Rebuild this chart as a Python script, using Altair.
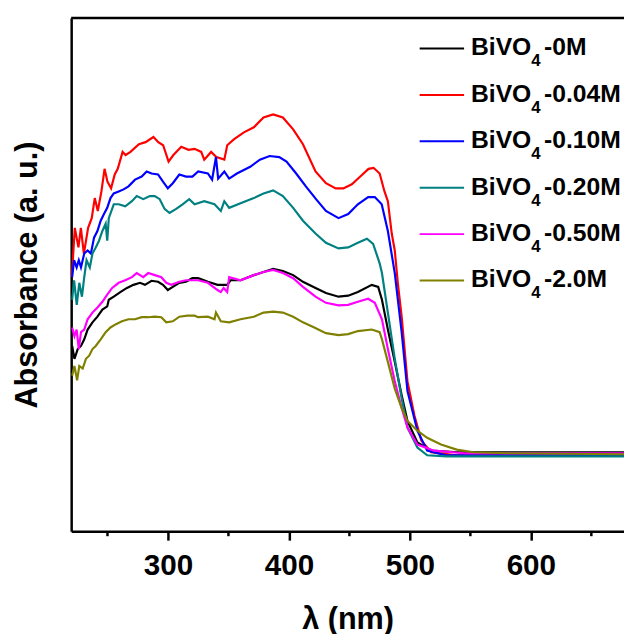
import altair as alt
import pandas as pd

names = ["BiVO4-0M", "BiVO4-0.04M", "BiVO4-0.10M", "BiVO4-0.20M", "BiVO4-0.50M", "BiVO4-2.0M"]
suffixes = ["-0M", "-0.04M", "-0.10M", "-0.20M", "-0.50M", "-2.0M"]
colors = ["#000000", "#ff0000", "#0000ff", "#008080", "#ff00ff", "#808000"]

major_ticks = [300, 400, 500, 600]
minor_ticks = [250, 350, 450, 550, 650]

lam_0M = [220.8, 222.7, 225.4, 228.1, 230.8, 233.6, 237.6, 241.7, 245.8, 249.8, 251.1, 255.2, 260.6, 266.1,
          271.5, 276.9, 281, 286.4, 291.8, 295.9, 299.9, 304, 309.4, 314.9, 320.2, 325, 333, 341, 349, 351.7,
          360, 371, 379, 387, 395, 403.5, 411.6, 422, 430.6, 441, 449, 457, 468.5, 473.8, 476.9, 481.8, 487.5,
          493.2, 498, 506.2, 517.6, 540, 600, 677]
abs_0M = [0.361, 0.336, 0.355, 0.361, 0.374, 0.393, 0.407, 0.418, 0.432, 0.438, 0.451, 0.457, 0.466, 0.474,
          0.480, 0.484, 0.480, 0.488, 0.486, 0.480, 0.470, 0.476, 0.484, 0.486, 0.493, 0.493, 0.486, 0.480, 0.480,
          0.489, 0.489, 0.499, 0.505, 0.511, 0.507, 0.499, 0.486, 0.474, 0.464, 0.457, 0.459, 0.466, 0.480, 0.476,
          0.451, 0.393, 0.330, 0.265, 0.215, 0.173, 0.157, 0.154, 0.154, 0.154]

lam_004 = [220.5, 223, 226, 228, 230.5, 234, 237, 239.5, 242, 245, 247.6, 250, 253, 256, 258.5, 262.5, 265, 269,
           276, 281.5, 288, 292, 296, 300.5, 304.5, 311, 317, 322, 327.5, 330, 335.7, 340, 346.6, 349, 354.7,
           362.8, 371, 379, 387, 395, 403.5, 411.6, 422, 430.6, 438.7, 445, 452, 459, 465.8, 470, 475, 479,
           481.8, 485, 487.5, 490, 493.2, 498, 503.7, 509.4, 517.6, 538.7, 600, 677]
abs_004 = [0.495, 0.591, 0.553, 0.591, 0.541, 0.591, 0.610, 0.649, 0.624, 0.662, 0.706, 0.681, 0.668, 0.695,
           0.706, 0.739, 0.733, 0.739, 0.754, 0.758, 0.768, 0.758, 0.752, 0.720, 0.733, 0.749, 0.743, 0.745,
           0.739, 0.724, 0.739, 0.729, 0.724, 0.752, 0.764, 0.777, 0.787, 0.806, 0.812, 0.806, 0.783, 0.754,
           0.701, 0.678, 0.668, 0.668, 0.676, 0.691, 0.706, 0.708, 0.697, 0.662, 0.643, 0.580, 0.547, 0.484,
           0.418, 0.292, 0.226, 0.177, 0.154, 0.148, 0.148, 0.148]

lam_010 = [220.8, 222.4, 224.5, 226.3, 228.1, 230.8, 233.6, 236.3, 238.9, 241.7, 244.4, 247.1, 249.8, 252.5,
           255.2, 259.3, 263.3, 267.4, 272.8, 278.3, 282.4, 286.4, 291.8, 295.9, 299.9, 304, 309.4, 314.9,
           320.2, 325, 333, 336.5, 339.7, 341.5, 346.6, 350.6, 357, 368, 376, 384, 392, 398, 406, 414, 422.4,
           430.6, 441, 449, 457, 465.5, 471, 476.7, 481.8, 487.5, 493.2, 498, 506.2, 514.3, 530, 600, 677]
abs_010 = [0.495, 0.528, 0.514, 0.528, 0.514, 0.541, 0.547, 0.541, 0.572, 0.585, 0.605, 0.618, 0.630, 0.649,
           0.658, 0.662, 0.666, 0.672, 0.685, 0.691, 0.701, 0.697, 0.695, 0.681, 0.668, 0.678, 0.695, 0.691,
           0.691, 0.701, 0.697, 0.685, 0.729, 0.687, 0.701, 0.687, 0.697, 0.710, 0.724, 0.731, 0.729, 0.720,
           0.697, 0.672, 0.647, 0.624, 0.610, 0.618, 0.637, 0.651, 0.651, 0.637, 0.585, 0.503, 0.388, 0.273,
           0.196, 0.157, 0.148, 0.148, 0.148]

lam_020 = [220.8, 222.4, 224.6, 226.7, 228.9, 230.8, 232.7, 235.4, 237.6, 240.3, 243, 245.8, 248.5, 249.8,
           251.1, 255.2, 259.3, 264.7, 270.2, 274.2, 279.6, 285, 289.1, 293.2, 297.2, 301.3, 306.8, 312.1,
           317.6, 322, 330, 338.5, 343.7, 346.6, 350.6, 360, 371, 379, 387, 395, 403.5, 411.6, 422, 430.6, 441,
           449, 457, 464.5, 469.6, 475, 476.9, 481.8, 487.5, 493.2, 498, 506.2, 514.3, 530, 600, 677]
abs_020 = [0.451, 0.489, 0.441, 0.484, 0.457, 0.495, 0.528, 0.514, 0.541, 0.553, 0.566, 0.585, 0.599, 0.566,
           0.610, 0.637, 0.637, 0.633, 0.643, 0.653, 0.647, 0.653, 0.653, 0.647, 0.628, 0.620, 0.628, 0.637,
           0.647, 0.637, 0.643, 0.637, 0.624, 0.643, 0.630, 0.639, 0.649, 0.658, 0.664, 0.653, 0.630, 0.605,
           0.580, 0.562, 0.551, 0.553, 0.562, 0.570, 0.560, 0.522, 0.503, 0.426, 0.336, 0.259, 0.202, 0.163,
           0.148, 0.146, 0.146, 0.146]

lam_050 = [220.8, 222.7, 224.5, 226.3, 228.1, 230.8, 233.6, 237.6, 241.7, 245.8, 249.8, 253.9, 259.3, 264.7,
           270.2, 274.2, 279.6, 283.7, 289.1, 294.5, 298.6, 302.7, 309.4, 314.9, 320.2, 325, 333, 341, 343.7,
           346, 349, 350.6, 360, 371, 379, 387, 395, 403.5, 411.6, 422, 430.6, 441, 449, 457, 465.5, 471, 476.9,
           481.8, 487.5, 493.2, 498, 506.2, 520, 545, 600, 677]
abs_050 = [0.397, 0.380, 0.393, 0.355, 0.388, 0.393, 0.413, 0.426, 0.436, 0.447, 0.461, 0.474, 0.484, 0.489,
           0.495, 0.503, 0.495, 0.503, 0.499, 0.495, 0.484, 0.480, 0.486, 0.489, 0.489, 0.489, 0.484, 0.470,
           0.466, 0.474, 0.466, 0.495, 0.489, 0.499, 0.505, 0.509, 0.503, 0.493, 0.476, 0.457, 0.445, 0.440,
           0.441, 0.447, 0.453, 0.445, 0.413, 0.355, 0.292, 0.240, 0.202, 0.169, 0.157, 0.152, 0.152, 0.152]

lam_20 = [220.8, 222.7, 224.9, 226.7, 229.5, 232.2, 234.9, 237.6, 240.3, 244.4, 248.5, 252.5, 256.6, 262,
          267.4, 272.8, 278.3, 283.7, 289.1, 294.5, 298.6, 304, 309.4, 316.2, 322, 325, 333, 338.5, 339.7,
          343.7, 350.6, 360, 371, 379, 387, 395, 403.5, 411.6, 421, 430.6, 441, 449, 457, 468.5, 475, 476.9,
          481.8, 487.5, 493.2, 498, 506.2, 514.3, 525.7, 538.7, 552.5, 580, 677]
abs_20 = [0.303, 0.322, 0.294, 0.322, 0.317, 0.336, 0.342, 0.355, 0.361, 0.374, 0.388, 0.397, 0.403, 0.409,
          0.413, 0.413, 0.417, 0.417, 0.418, 0.417, 0.407, 0.409, 0.418, 0.420, 0.420, 0.417, 0.418, 0.413,
          0.426, 0.409, 0.407, 0.413, 0.418, 0.426, 0.428, 0.426, 0.418, 0.407, 0.397, 0.386, 0.382, 0.384,
          0.390, 0.393, 0.388, 0.374, 0.330, 0.278, 0.240, 0.215, 0.196, 0.182, 0.169, 0.159, 0.154, 0.152,
          0.150]

series = [(names[0], lam_0M, abs_0M), (names[1], lam_004, abs_004), (names[2], lam_010, abs_010),
          (names[3], lam_020, abs_020), (names[4], lam_050, abs_050), (names[5], lam_20, abs_20)]
rows = []
for nm, ls, vs in series:
    for i, (l, v) in enumerate(zip(ls, vs)):
        rows.append({"series": nm, "lam": l, "a": v, "i": i})
df = pd.DataFrame(rows)
leg = pd.DataFrame({"name": names, "suffix": suffixes})
minor_df = pd.DataFrame({"lam": minor_ticks})

FONT = "Liberation Sans"
W, H = 560, 520

x_scale = alt.Scale(domain=[220, 677], nice=False, zero=False)
y_scale = alt.Scale(domain=[0, 1], nice=False, zero=False)
color_scale = alt.Scale(domain=names, range=colors)
leg_scale = alt.Scale(type="point", domain=names, range=[31, 266], padding=0)

x_axis = alt.Axis(values=major_ticks, format="d", tickSize=9, tickWidth=2.5, tickColor="black",
                  domainColor="black", domainWidth=2.5, labelFont=FONT, labelFontSize=30,
                  labelFontWeight="bold", labelColor="black", labelPadding=11, labelFlush=False,
                  title="λ (nm)", titleFont=FONT, titleFontSize=31, titleFontWeight="bold",
                  titleColor="black", titlePadding=24, grid=False)
y_axis = alt.Axis(title="Absorbance (a. u.)", labels=False, ticks=False, grid=False,
                  domainColor="black", domainWidth=2.5, titleFont=FONT, titleFontSize=31,
                  titleFontWeight="bold", titleColor="black", titlePadding=28)

lines = alt.Chart(df).mark_line(strokeWidth=2.2, clip=True).encode(
    x=alt.X("lam:Q", scale=x_scale, axis=x_axis),
    y=alt.Y("a:Q", scale=y_scale, axis=y_axis),
    color=alt.Color("series:N", scale=color_scale, legend=None),
    order="i:Q",
)

minor = alt.Chart(minor_df).mark_rule(strokeWidth=2.5, color="black").encode(
    x=alt.X("lam:Q", scale=x_scale, axis=x_axis),
    y=alt.value(H),
    y2=alt.value(H + 5),
)

top = alt.Chart(pd.DataFrame({"d": [0]})).mark_rule(strokeWidth=2.5, color="black").encode(
    x=alt.value(0), x2=alt.value(W), y=alt.value(0)
)

leg_lines = alt.Chart(leg).mark_rule(strokeWidth=2).encode(
    x=alt.value(353), x2=alt.value(398),
    y=alt.Y("name:N", scale=leg_scale, axis=None),
    color=alt.Color("name:N", scale=color_scale, legend=None),
)
txt = dict(align="left", baseline="alphabetic", font=FONT, fontWeight="bold", color="black")
leg_main = alt.Chart(leg).mark_text(fontSize=25, dy=7, **txt).encode(
    x=alt.value(405), y=alt.Y("name:N", scale=leg_scale, axis=None), text=alt.value("BiVO"))
leg_sub = alt.Chart(leg).mark_text(fontSize=17, dy=18, **txt).encode(
    x=alt.value(466), y=alt.Y("name:N", scale=leg_scale, axis=None), text=alt.value("4"))
leg_suf = alt.Chart(leg).mark_text(fontSize=25, dy=7, **txt).encode(
    x=alt.value(479), y=alt.Y("name:N", scale=leg_scale, axis=None), text="suffix:N")

chart = alt.layer(lines, minor, top, leg_lines, leg_main, leg_sub, leg_suf).resolve_scale(
    y="independent"
).properties(
    width=W, height=H,
    autosize=alt.AutoSizeParams(type="none"),
    padding={"left": 64, "top": 6, "right": 0, "bottom": 100},
).configure_view(stroke=None).configure(background="white")

chart.save("out.html", embed_options={"renderer": "svg", "actions": False})
